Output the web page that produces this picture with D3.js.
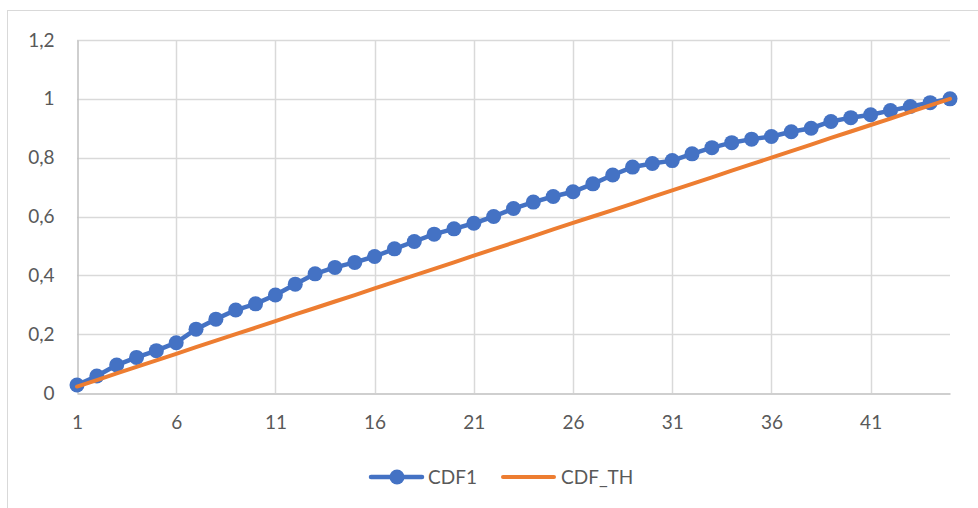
<!DOCTYPE html>
<html>
<head>
<meta charset="utf-8">
<script src="https://cdn.jsdelivr.net/npm/d3@7"></script>
<style>
  body { margin: 0; background: #fff; }
  text { font-family: Lato, "Open Sans", sans-serif; fill: #595959; }
</style>
</head>
<body>
<div id="chart"></div>
<script>
// data
var categories = d3.range(1, 46); // 1..45
var cdf1 = [0.027, 0.058, 0.095, 0.121, 0.144, 0.171, 0.217, 0.251, 0.282, 0.303,
            0.333, 0.370, 0.405, 0.427, 0.444, 0.464, 0.490, 0.515, 0.540, 0.558,
            0.577, 0.600, 0.627, 0.649, 0.668, 0.684, 0.711, 0.741, 0.768, 0.780,
            0.790, 0.813, 0.834, 0.851, 0.863, 0.872, 0.888, 0.900, 0.923, 0.936,
            0.946, 0.960, 0.974, 0.987, 1.000];
var cdfTh = [0.022, 0.044, 0.067, 0.089, 0.111, 0.133, 0.156, 0.178, 0.200, 0.222,
             0.244, 0.267, 0.289, 0.311, 0.333, 0.356, 0.378, 0.400, 0.422, 0.444,
             0.467, 0.489, 0.511, 0.533, 0.556, 0.578, 0.600, 0.622, 0.644, 0.667,
             0.689, 0.711, 0.733, 0.756, 0.778, 0.800, 0.822, 0.844, 0.867, 0.889,
             0.911, 0.933, 0.956, 0.978, 1.000];
var xTicks = [1, 6, 11, 16, 21, 26, 31, 36, 41];
var yTicks = [0, 0.2, 0.4, 0.6, 0.8, 1, 1.2];
var seriesNames = ["CDF1", "CDF_TH"];

var w = 978, h = 508;
var blue = "#4472C4", orange = "#ED7D31";

var svg = d3.select("#chart").append("svg")
  .attr("width", w)
  .attr("height", h);

// chart area border (only top and left show in the window)
svg.append("rect")
  .attr("x", 7.5).attr("y", 10.5)
  .attr("width", 1000).attr("height", 600)
  .attr("fill", "none")
  .attr("stroke", "#d9d9d9");

var x = d3.scaleLinear().domain([1, 45]).range([77, 950]);
var y = d3.scaleLinear().domain([0, 1.2]).range([393, 40]);

// gridlines
svg.append("g").selectAll("line")
  .data(yTicks.filter(function (d) { return d > 0; }))
  .enter().append("line")
  .attr("x1", 77).attr("x2", 950)
  .attr("y1", function (d) { return Math.round(y(d)) + 0.5; })
  .attr("y2", function (d) { return Math.round(y(d)) + 0.5; })
  .attr("stroke", "#d9d9d9").attr("stroke-width", 1.5);

svg.append("g").selectAll("line")
  .data(xTicks.slice(1))
  .enter().append("line")
  .attr("x1", function (d) { return Math.round(x(d)) + 0.5; })
  .attr("x2", function (d) { return Math.round(x(d)) + 0.5; })
  .attr("y1", 40).attr("y2", 393)
  .attr("stroke", "#d9d9d9").attr("stroke-width", 1.5);

// axes
var xAxis = d3.axisBottom(x).tickValues(xTicks).tickSize(0).tickPadding(22);
var gx = svg.append("g").attr("transform", "translate(0,393.5)").call(xAxis);
gx.select(".domain").attr("stroke", "#bfbfbf").attr("stroke-width", 1.5);
gx.selectAll("text").style("font-size", "19px").attr("fill", "#595959");

var fmt = function (d) { return String(d).replace(".", ","); };
var yAxis = d3.axisLeft(y).tickValues(yTicks).tickFormat(fmt).tickSize(0).tickPadding(23);
var gy = svg.append("g").attr("transform", "translate(77.5,0)").call(yAxis);
gy.select(".domain").attr("stroke", "#bfbfbf").attr("stroke-width", 1.5);
gy.selectAll("text").style("font-size", "19px").attr("fill", "#595959");

// theoretical line
var line = d3.line()
  .x(function (d, i) { return x(categories[i]); })
  .y(function (d) { return y(d); });

svg.append("path")
  .datum(cdf1)
  .attr("d", line)
  .attr("fill", "none")
  .attr("stroke", blue)
  .attr("stroke-width", 4.5)
  .attr("stroke-linejoin", "round");

svg.append("g").selectAll("circle")
  .data(cdf1)
  .enter().append("circle")
  .attr("cx", function (d, i) { return x(categories[i]); })
  .attr("cy", function (d) { return y(d); })
  .attr("r", 7.5)
  .attr("fill", blue);

svg.append("path")
  .datum(cdfTh)
  .attr("d", line)
  .attr("fill", "none")
  .attr("stroke", orange)
  .attr("stroke-width", 4)
  .attr("stroke-linecap", "round");

// legend
var ly = 477;
var leg = svg.append("g");
leg.append("line")
  .attr("x1", 371).attr("x2", 422).attr("y1", ly).attr("y2", ly)
  .attr("stroke", blue).attr("stroke-width", 4.5).attr("stroke-linecap", "round");
leg.append("circle").attr("cx", 397).attr("cy", ly).attr("r", 7.5).attr("fill", blue);
leg.append("text").attr("x", 428).attr("y", ly).attr("dy", "0.36em")
  .style("font-size", "19px").text(seriesNames[0]);

leg.append("line")
  .attr("x1", 503).attr("x2", 554).attr("y1", ly).attr("y2", ly)
  .attr("stroke", orange).attr("stroke-width", 4).attr("stroke-linecap", "round");
leg.append("text").attr("x", 561).attr("y", ly).attr("dy", "0.36em")
  .style("font-size", "19px").text(seriesNames[1]);
</script>
</body>
</html>
